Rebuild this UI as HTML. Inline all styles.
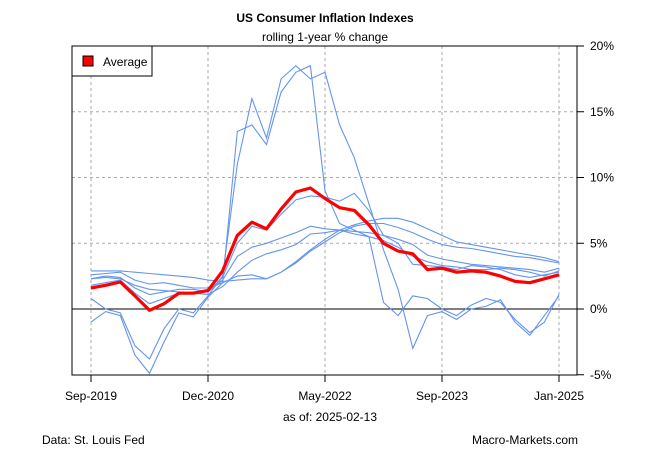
<!DOCTYPE html>
<html><head><meta charset="utf-8"><style>
body{margin:0;background:#fff;}
svg text{font-family:"Liberation Sans",Arial,sans-serif;font-size:12px;fill:#000;}
</style></head><body>
<svg id="chart" width="650" height="450" xmlns="http://www.w3.org/2000/svg">
<rect width="650" height="450" fill="#fff"/>
<text x="325" y="22" text-anchor="middle" font-weight="bold">US Consumer Inflation Indexes</text>
<text x="325" y="41" text-anchor="middle">rolling 1-year % change</text>
<g id="grid"></g>
<g id="series"></g>
<g id="axes"></g>
<rect x="72" y="46" width="505" height="329" fill="none" stroke="#000"/>
<g>
<rect x="72" y="46" width="80" height="30" fill="#fff" stroke="#000"/>
<rect x="83" y="56" width="10" height="10" fill="#f00" stroke="#000"/>
<text x="103" y="66">Average</text>
</g>
<text x="330" y="421" text-anchor="middle">as of:  2025-02-13</text>
<text x="42" y="444">Data: St. Louis Fed</text>
<text x="578" y="444" text-anchor="end">Macro-Markets.com</text>
</svg>
<script>
const xIndex=[0,2,4,6,8,10,12,14,16,18,20,22,24,26,28,30,32,34,36,38,40,42,44,46,48,50,52,54,56,58,60,62,64];
const tickIdx=[0,16,32,48,64];
const tickLabels=["Sep-2019","Dec-2020","May-2022","Sep-2023","Jan-2025"];
const yTicks=[-5,0,5,10,15,20];
const s1=[-1.0,-0.2,-0.5,-3.5,-4.9,-2.5,-0.3,-0.6,0.9,2.0,13.5,14.0,12.5,16.5,18.0,18.5,9.0,6.5,6.0,5.5,0.5,-0.5,1.0,0.8,0.0,-0.5,0.3,0.8,0.5,-0.8,-1.8,-1.0,1.1];
const s2=[0.8,0.0,-0.3,-2.8,-3.8,-1.5,0.0,-0.3,1.0,2.5,11.0,16.0,13.0,17.5,18.5,17.5,18.0,14.0,11.5,8.0,4.5,1.5,-3.0,-0.5,-0.2,-0.8,0.0,0.2,0.7,-1.0,-2.0,-0.5,1.0];
const s3=[2.9,2.9,2.9,2.8,2.7,2.6,2.5,2.4,2.2,2.1,2.2,2.3,2.3,2.8,3.6,4.5,5.3,6.0,6.4,6.7,6.9,6.9,6.6,6.1,5.6,5.1,4.9,4.7,4.5,4.3,4.1,3.9,3.6];
const s4=[2.6,2.7,2.8,2.2,1.9,2.0,1.8,1.6,1.6,2.0,2.5,2.6,2.3,2.8,3.5,4.4,5.1,5.8,6.3,6.5,6.5,6.2,5.8,5.3,4.9,4.7,4.6,4.4,4.2,4.0,3.9,3.7,3.5];
const s5=[2.3,2.5,2.4,1.6,1.1,1.3,1.5,1.5,1.3,2.2,4.0,4.7,5.0,5.4,5.8,6.3,6.1,6.0,5.9,5.8,5.6,5.3,4.9,4.1,3.8,3.6,3.4,3.3,3.2,3.1,3.0,2.8,3.1];
const s6=[2.3,2.4,2.3,1.8,1.5,1.4,1.3,1.2,1.1,1.7,2.8,3.7,4.2,4.5,4.9,5.7,5.8,6.0,5.7,5.5,5.2,4.7,4.0,3.6,3.3,3.2,3.0,3.0,3.1,3.0,2.8,2.5,2.9];
const s7=[1.8,2.0,2.2,1.2,0.4,0.8,1.2,1.3,1.3,2.4,5.0,6.3,6.0,7.2,8.3,8.6,8.5,8.2,8.8,7.5,5.6,5.0,3.4,3.3,3.2,3.0,3.3,3.2,3.0,2.6,2.4,2.6,2.8];
const avg=[1.6,1.8,2.05,1.0,-0.1,0.4,1.2,1.2,1.4,2.9,5.6,6.6,6.1,7.6,8.9,9.2,8.4,7.7,7.5,6.4,5.0,4.4,4.2,3.0,3.1,2.8,2.9,2.8,2.5,2.1,2.0,2.3,2.6];

const NS="http://www.w3.org/2000/svg";
const X=i=>91+(559-91)*i/64;
const Y=v=>309-(v)*(309-46)/20;
function mk(tag,attrs,parent){const e=document.createElementNS(NS,tag);for(const k in attrs)e.setAttribute(k,attrs[k]);parent.appendChild(e);return e;}
const grid=document.getElementById('grid'),axes=document.getElementById('axes'),ser=document.getElementById('series');
tickIdx.forEach((t,k)=>{
  const gl=mk('line',{x1:X(t),x2:X(t),y1:46,y2:375,stroke:'#aaa','stroke-dasharray':'3,3'},grid);
  
  
  const tk=mk('line',{x1:X(t),x2:X(t),y1:375,y2:382,stroke:'#000'},axes);
  
  
  const tl=mk('text',{x:X(t),y:400,'text-anchor':'middle'},axes);
  tl.textContent=tickLabels[k];
  
  
});
yTicks.forEach(v=>{
  if(v!==0&&v!==-5&&v!==20){
    const gl=mk('line',{x1:72,x2:577,y1:Y(v),y2:Y(v),stroke:'#aaa','stroke-dasharray':'3,3'},grid);
    
    
  }
  const tk=mk('line',{x1:577,x2:584,y1:Y(v),y2:Y(v),stroke:'#000'},axes);
  
  
  const tl=mk('text',{x:590,y:Y(v)+4},axes);
  tl.textContent=v+'%';
  
  
});
const zl=mk('line',{x1:72,x2:577,y1:Y(0),y2:Y(0),stroke:'#000'},grid);


const pts=a=>a.map((v,i)=>X(xIndex[i]).toFixed(1)+','+Y(v).toFixed(1)).join(' ');
[s1,s2,s3,s4,s5,s6,s7].forEach((s,k)=>{
  const p=mk('polyline',{points:pts(s),fill:'none',stroke:'#6495ed','stroke-width':1.1},ser);
  
  
});
const a=mk('polyline',{points:pts(avg),fill:'none',stroke:'#f00','stroke-width':3.2,'stroke-linejoin':'round'},ser);


</script>
</body></html>
